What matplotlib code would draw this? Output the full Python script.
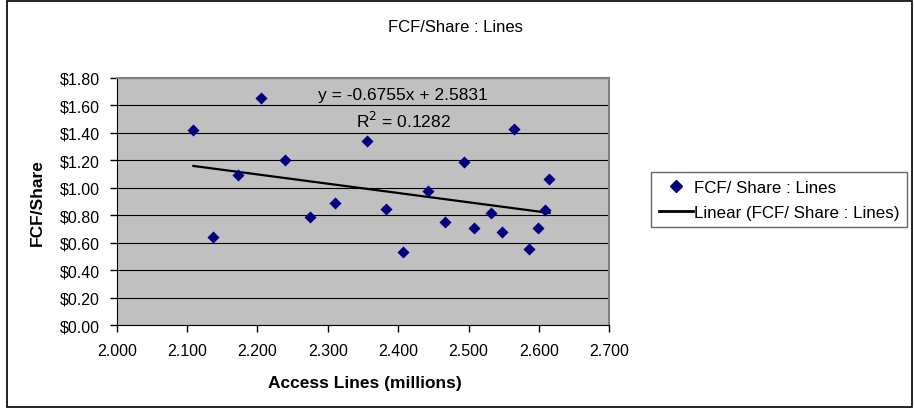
import numpy as np
import matplotlib.pyplot as plt
from matplotlib.patches import Rectangle
from matplotlib.lines import Line2D
from matplotlib.ticker import MultipleLocator, FuncFormatter

plt.rcParams['font.family'] = ['Liberation Sans', 'DejaVu Sans']

# access lines (millions) vs free cash flow per share
access_lines = [2.109, 2.137, 2.172, 2.205, 2.239, 2.275, 2.310, 2.355, 2.382, 2.407, 2.443,
                2.466, 2.493, 2.508, 2.532, 2.548, 2.565, 2.586, 2.598, 2.609, 2.615]
fcf_share = [1.42, 0.64, 1.09, 1.65, 1.20, 0.79, 0.89, 1.34, 0.845, 0.535, 0.975,
             0.75, 1.19, 0.71, 0.815, 0.68, 1.43, 0.555, 0.71, 0.84, 1.06]

# linear trendline
slope = -0.6755
intercept = 2.5831
r2 = 0.1282

W, H = 914, 410
fig = plt.figure(figsize=(W / 100, H / 100), dpi=100)
ax = fig.add_axes([116.7 / W, 1 - 326.3 / H, (609.3 - 116.7) / W, (326.3 - 78.7) / H])
ax.set_facecolor('#C0C0C0')

x = np.array(access_lines)
xl = np.array([x.min(), x.max()])
ax.plot(xl, slope * xl + intercept, color='black', lw=1.6, zorder=3)
ax.scatter(access_lines, fcf_share, marker='D', s=38, color='#000080', zorder=4, linewidths=0)

ax.set_xlim(2.0, 2.7)
ax.set_ylim(0, 1.8)
ax.xaxis.set_major_locator(MultipleLocator(0.1))
ax.yaxis.set_major_locator(MultipleLocator(0.2))
ax.xaxis.set_major_formatter(FuncFormatter(lambda v, p: f'{v:.3f}'))
ax.yaxis.set_major_formatter(FuncFormatter(lambda v, p: f'${v:.2f}'))
ax.grid(axis='y', color='black', lw=0.8)
ax.set_axisbelow(True)
ax.tick_params(direction='out', length=5, width=1, labelsize=11.5)
ax.tick_params(axis='x', pad=8)
ax.tick_params(axis='y', pad=7)
for s in ['top', 'right']:
    ax.spines[s].set_color('#808080')
    ax.spines[s].set_linewidth(1.5)
for s in ['left', 'bottom']:
    ax.spines[s].set_color('black')

ax.set_xlabel('Access Lines (millions)', fontsize=12.5, fontweight='bold')
ax.set_ylabel('FCF/Share', fontsize=12.5, fontweight='bold')
ax.xaxis.set_label_coords(0.503, -0.233)
ax.xaxis.label.set_va('center')
ax.yaxis.set_label_coords(-0.162, 0.5)
ax.yaxis.label.set_va('center')

ax.text(2.406, 1.681, f'y = {slope:.4f}x + {intercept:.4f}', fontsize=12.5, ha='center', va='center')
ax.text(2.408, 1.49, f'R$^2$ = {r2:.4f}', fontsize=12.5, ha='center', va='center')

fig.text(455 / W, 1 - 27 / H, 'FCF/Share : Lines', fontsize=12, ha='center', va='center')

handles = [Line2D([], [], marker='D', color='#000080', ls='none', markersize=6),
           Line2D([], [], color='black', lw=2)]
fig.legend(handles, ['FCF/ Share : Lines', 'Linear (FCF/ Share : Lines)'],
           loc='upper left', bbox_to_anchor=(651 / W, 1 - 173 / H), fontsize=12.2,
           frameon=True, fancybox=False, edgecolor='#404040', handlelength=2.0,
           handletextpad=0.1, borderpad=0.45, labelspacing=0.6, borderaxespad=0)

fig.patches.append(Rectangle((7 / W, 2 / H), (912 - 7) / W, (H - 4) / H, transform=fig.transFigure,
                             fill=False, edgecolor='black', lw=1.2))

fig.savefig('out.png', dpi=100, facecolor='white')
